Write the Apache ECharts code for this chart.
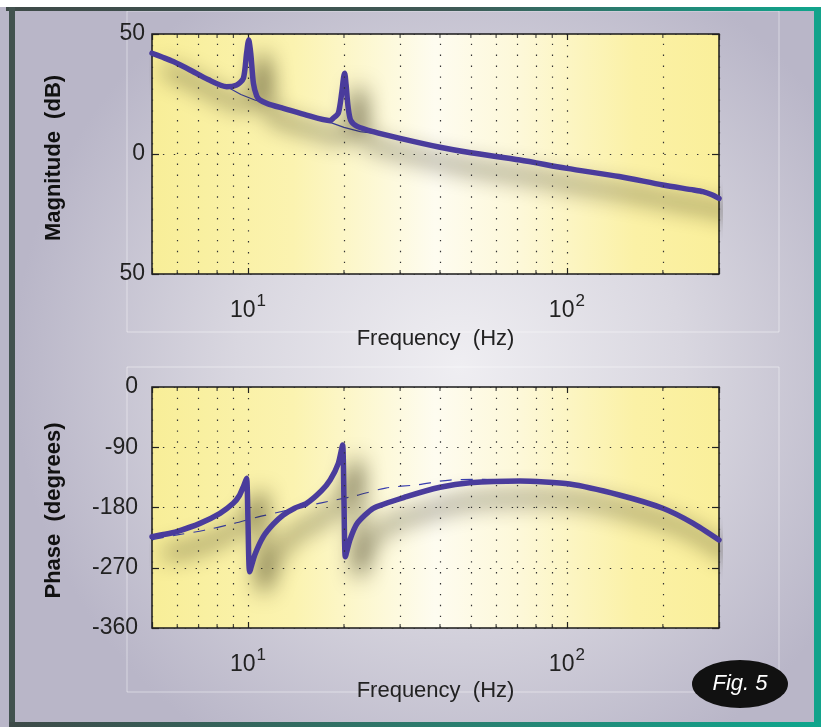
<!DOCTYPE html>
<html><head><meta charset="utf-8">
<script src="https://cdn.jsdelivr.net/npm/echarts@6/dist/echarts.min.js"></script>
<style>html,body{margin:0;padding:0;background:#fff}#c{width:821px;height:727px}</style>
</head><body><div id="c"></div>
<script>
// ---- data ----
const magFreq = [5, 5.4, 5.83, 6.58, 7.5, 8.58, 9.2, 9.67, 9.9, 10.05, 10.2, 10.4, 10.65, 10.9, 11.5, 12.9, 15, 18.1, 18.5, 19.2, 19.7, 19.95, 20.1, 20.3, 20.6, 21.0, 22, 24.7, 30, 40, 50, 71.3, 100, 146, 200, 250, 267, 285, 300];
const magDb   = [42, 40.3, 38.5, 35, 31, 28, 28.7, 31.5, 42, 47.5, 42, 29.4, 24.2, 22.5, 21, 19, 16.5, 13.9, 14.9, 17, 26, 32, 33.6, 29, 19.7, 14, 11.5, 9.3, 6.5, 2.8, 0.5, -2.5, -6, -9.4, -12.9, -15, -15.7, -17, -18.5];

const magBaseFreq = [5, 6.5, 8.5, 9.5, 10.5, 11.5, 13, 16, 18, 20, 22.5, 25, 30, 40, 50, 71.3, 100, 146, 200, 250, 300];
const magBaseDb   = [42, 35.3, 28.3, 24.8, 22.5, 21, 18.8, 15.2, 13.3, 11.1, 9.3, 8.6, 6.5, 2.8, 0.5, -2.5, -6, -9.4, -12.9, -15, -18.5];

const phaseFreq = [5, 5.5, 5.98, 7.07, 8.17, 8.99, 9.4, 9.67, 9.9, 10.0, 10.12, 10.5, 11.17, 12.0, 12.9, 14, 15.27, 17, 18.1, 19.2, 19.8, 20.0, 20.2, 20.87, 22, 24.7, 31.4, 40, 49.6, 71.3, 102, 146, 200, 249, 300];
const phaseDeg  = [-223.6, -220, -216, -203.7, -188.7, -173.8, -162, -149, -136.4, -200, -276, -251, -223.6, -205, -191.2, -181, -173.8, -155, -139, -114, -86.6, -170, -253.5, -228.5, -203.7, -181.2, -163.9, -149.8, -143, -140.4, -144.9, -161.3, -181.2, -203.7, -228.5];

const phaseBaseFreq = [5, 6, 7.3, 9, 11, 17, 21.5, 27, 34, 43, 55, 71, 100, 146, 200, 250, 300];
const phaseBaseDeg  = [-228, -221, -214, -204, -193, -173, -163, -151, -146, -139, -138, -140, -145, -161, -181, -204, -228.5];

const freqRange = [5, 300];
const minorFreqs = [6, 7, 8, 9, 20, 30, 40, 50, 60, 70, 80, 90, 200];
const magRange = [-50, 50];
const magTickLabels = {'-50': '50', '0': '0', '50': '50'};
const phaseRange = [-360, 0];
const phaseTickLabels = {'-360': '-360', '-270': '-270', '-180': '-180', '-90': '-90', '0': '0'};
const decadeLabels = {1: '{b|10}{sup|1}', 2: '{b|10}{sup|2}'};

// ---- style ----
const FONT = '"Liberation Sans", Arial, Helvetica, sans-serif';
const INK = '#222222';
const LINE = '#4a3c9c';
const gridBg = {type: 'linear', x: 0, y: 0, x2: 1, y2: 0, colorStops: [
  {offset: 0, color: '#f8ee98'}, {offset: 0.25, color: '#fbf3b0'}, {offset: 0.5, color: '#fefcf0'},
  {offset: 0.65, color: '#fdf8d8'}, {offset: 0.85, color: '#fbf1a6'}, {offset: 1, color: '#faef9a'}]};
const dotted = {color: '#333', width: 1.2, type: [1.4, 9.5]};

function pairs(xs, ys) { return xs.map((x, i) => [x, ys[i]]); }
function decadeFmt(v) {
  const p = Math.log10(v), r = Math.round(p);
  return (Math.abs(p - r) < 1e-6 && decadeLabels[r]) ? decadeLabels[r] : '';
}
function bottomX(gi, gap) {
  return {
    type: 'log', logBase: 10, gridIndex: gi, min: freqRange[0], max: freqRange[1], position: 'bottom',
    axisLine: {show: false, onZero: false},
    axisTick: {show: true, inside: true, length: 6, lineStyle: {color: INK, width: 1.2}},
    splitLine: {show: true, lineStyle: dotted},
    axisLabel: {formatter: decadeFmt, margin: 19, color: INK, fontFamily: FONT,
      rich: {b: {fontSize: 23, fontFamily: FONT, color: INK, verticalAlign: 'bottom'},
             sup: {fontSize: 17, fontFamily: FONT, color: INK, verticalAlign: 'bottom', padding: [0, 0, 12, 1]}}},
    name: 'Frequency  (Hz)', nameLocation: 'middle', nameGap: gap,
    nameTextStyle: {fontFamily: FONT, fontSize: 22, color: INK}
  };
}
function topX(gi) {
  return {
    type: 'log', logBase: 10, gridIndex: gi, min: freqRange[0], max: freqRange[1], position: 'top',
    axisLine: {show: false, onZero: false}, axisLabel: {show: false}, splitLine: {show: false},
    axisTick: {show: true, inside: true, length: 6, lineStyle: {color: INK, width: 1.2}}
  };
}
function leftY(gi, range, interval, labels, name, gap, margin, namePad) {
  return {
    type: 'value', gridIndex: gi, min: range[0], max: range[1], interval: interval, position: 'left',
    axisLine: {show: false, onZero: false},
    axisTick: {show: true, inside: true, length: 7, lineStyle: {color: INK, width: 1.2}},
    splitLine: {show: true, lineStyle: dotted},
    axisLabel: {formatter: v => labels[String(v)] ?? String(v), fontSize: 23, color: INK, fontFamily: FONT, margin: margin},
    name: name, nameLocation: 'middle', nameGap: gap,
    nameTextStyle: {fontFamily: FONT, fontSize: 22, fontWeight: 'bold', color: '#111', padding: namePad}
  };
}
function rightY(gi, range, interval) {
  return {
    type: 'value', gridIndex: gi, min: range[0], max: range[1], interval: interval, position: 'right',
    axisLine: {show: false, onZero: false}, axisLabel: {show: false}, splitLine: {show: false},
    axisTick: {show: true, inside: true, length: 7, lineStyle: {color: INK, width: 1.2}}
  };
}
function minorLines() {
  return {silent: true, symbol: ['none', 'none'], label: {show: false}, lineStyle: dotted,
          data: minorFreqs.map(f => ({xAxis: f}))};
}
function minorTicks(xi, yi, range) {
  const d = [];
  minorFreqs.forEach(f => {
    d.push({value: [f, range[1]], symbolOffset: [0, 2]});
    d.push({value: [f, range[0]], symbolOffset: [0, -2]});
  });
  return {type: 'scatter', xAxisIndex: xi, yAxisIndex: yi, data: d, symbol: 'rect', symbolSize: [1.2, 4],
          itemStyle: {color: INK}, silent: true, clip: false, z: 5};
}
const mainLine = {width: 5.5, color: LINE, shadowBlur: 22, shadowColor: 'rgba(40,36,12,1)', shadowOffsetX: 14, shadowOffsetY: 17, cap: 'round', join: 'round'};

const chart = echarts.init(document.getElementById('c'), null, {renderer: 'canvas'});
chart.setOption({
  animation: false,
  graphic: [
    {type: 'rect', z: -20, shape: {x: 0, y: 7, width: 821, height: 720},
     style: {fill: {type: 'radial', x: 0.56, y: 0.5, r: 0.62, colorStops: [
       {offset: 0, color: '#efeef2'}, {offset: 0.5, color: '#d9d7e0'}, {offset: 1, color: '#b9b6c8'}]}}},
    {type: 'rect', z: -19, shape: {x: 127, y: 11, width: 652, height: 321}, style: {fill: 'none', stroke: 'rgba(255,255,255,0.45)', lineWidth: 1}},
    {type: 'rect', z: -19, shape: {x: 127, y: 367, width: 652, height: 325}, style: {fill: 'none', stroke: 'rgba(255,255,255,0.45)', lineWidth: 1}},
    {type: 'rect', z: -18, shape: {x: 6, y: 7, width: 815, height: 4},
     style: {fill: {type: 'linear', x: 0, y: 0, x2: 1, y2: 0, colorStops: [{offset: 0, color: '#3e4a48'}, {offset: 0.55, color: '#3f5a56'}, {offset: 1, color: '#0fa68d'}]}}},
    {type: 'rect', z: -18, shape: {x: 9, y: 7, width: 6, height: 720}, style: {fill: '#42524f'}},
    {type: 'rect', z: -18, shape: {x: 814, y: 7, width: 7, height: 720}, style: {fill: '#12a38b'}},
    {type: 'rect', z: -18, shape: {x: 9, y: 722, width: 812, height: 5},
     style: {fill: {type: 'linear', x: 0, y: 0, x2: 1, y2: 0, colorStops: [{offset: 0, color: '#3e4a48'}, {offset: 0.5, color: '#2d7a6c'}, {offset: 1, color: '#0fa68d'}]}}},
    {type: 'group', z: 50, children: [
      {type: 'circle', x: 740, y: 684, scaleX: 2.0, scaleY: 1.0, shape: {cx: 0, cy: 0, r: 24}, style: {fill: '#111'}},
      {type: 'text', x: 740, y: 684, style: {text: 'Fig. 5', fill: '#fff', font: 'italic 22px ' + FONT, textAlign: 'center', textVerticalAlign: 'middle'}}
    ]}
  ],
  grid: [
    {left: 152, top: 34, width: 567, height: 240, show: true, backgroundColor: gridBg, borderColor: '#1a1a1a', borderWidth: 1.5},
    {left: 152, top: 387, width: 567, height: 241, show: true, backgroundColor: gridBg, borderColor: '#1a1a1a', borderWidth: 1.5}
  ],
  xAxis: [bottomX(0, 54), topX(0), bottomX(1, 52), topX(1)],
  yAxis: [
    leftY(0, magRange, 50, magTickLabels, 'Magnitude  (dB)', 87, 7, [0, 8, 0, 0]), rightY(0, magRange, 50),
    leftY(1, phaseRange, 90, phaseTickLabels, 'Phase  (degrees)', 87, 14, [0, 6, 0, 0]), rightY(1, phaseRange, 90)
  ],
  series: [
    {type: 'line', name: 'mag-asymptote', xAxisIndex: 0, yAxisIndex: 0, data: pairs(magBaseFreq, magBaseDb),
     showSymbol: false, lineStyle: {width: 1.2, color: '#3a3fb0'}, silent: true, z: 2, markLine: minorLines()},
    minorTicks(0, 0, magRange),
    {type: 'line', name: 'Magnitude', xAxisIndex: 0, yAxisIndex: 0, data: pairs(magFreq, magDb),
     showSymbol: false, smooth: 0.25, lineStyle: mainLine, silent: true, z: 3},
    {type: 'line', name: 'phase-asymptote', xAxisIndex: 2, yAxisIndex: 2, data: pairs(phaseBaseFreq, phaseBaseDeg),
     showSymbol: false, smooth: 0.3, lineStyle: {width: 1.2, color: '#3a3fb0', type: [12, 9]}, silent: true, z: 2, markLine: minorLines()},
    minorTicks(2, 2, phaseRange),
    {type: 'line', name: 'Phase', xAxisIndex: 2, yAxisIndex: 2, data: pairs(phaseFreq, phaseDeg),
     showSymbol: false, smooth: 0.2, lineStyle: mainLine, silent: true, z: 3}
  ]
});
</script>
</body></html>
